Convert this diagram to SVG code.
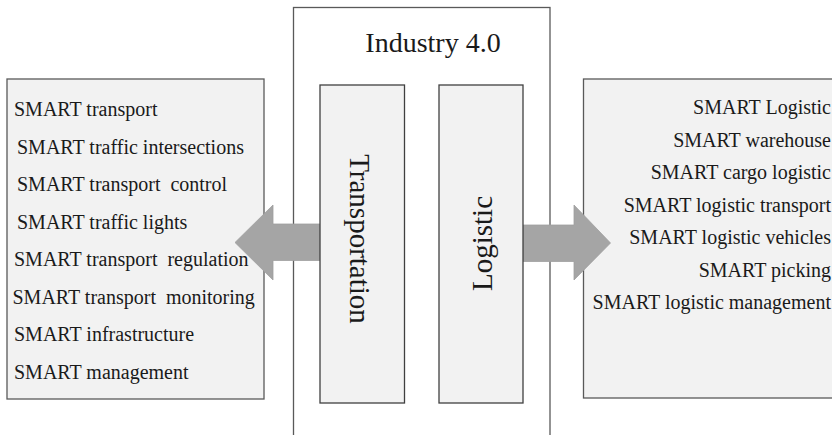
<svg xmlns="http://www.w3.org/2000/svg" width="832" height="435" viewBox="0 0 832 435">
<style>
.panel{fill:#f2f2f2;stroke:#595959;stroke-width:1.3}
.inner{fill:#f2f2f2;stroke:#404040;stroke-width:1.3}
.main{fill:#ffffff;stroke:#595959;stroke-width:1.3}
.arrow{fill:#a5a5a5;stroke:#a0a0a0;stroke-width:0.8}
text{fill:#1a1a1a;white-space:pre}
.item{font-size:20px}
.r{text-anchor:end}
.title{font-size:28px;text-anchor:middle}
.vert{font-size:29px;text-anchor:middle}
</style>
<rect width="832" height="435" fill="#ffffff"/>
<g font-family="'Liberation Serif', 'DejaVu Serif', serif">
<g id="industry">
<rect class="main" x="293.5" y="7.5" width="256.5" height="440"/>
<text class="title" x="433" y="52">Industry 4.0</text>
</g>
<g id="left-panel">
<rect class="panel" x="7" y="79" width="257" height="320"/>
<text class="item" x="14" y="116">SMART transport</text>
<text class="item" x="17" y="153.5">SMART traffic intersections</text>
<text class="item" x="17" y="191">SMART transport  control</text>
<text class="item" x="17" y="228.5">SMART traffic lights</text>
<text class="item" x="14" y="266">SMART transport  regulation</text>
<text class="item" x="12.5" y="303.5">SMART transport  monitoring</text>
<text class="item" x="14" y="341">SMART infrastructure</text>
<text class="item" x="14" y="378.5">SMART management</text>
</g>
<g id="right-panel">
<rect class="panel" x="583.5" y="79" width="260" height="319"/>
<text class="item r" x="831" y="114">SMART Logistic</text>
<text class="item r" x="831" y="146.5">SMART warehouse</text>
<text class="item r" x="831" y="179">SMART cargo logistic</text>
<text class="item r" x="831" y="211.5">SMART logistic transport</text>
<text class="item r" x="831" y="244">SMART logistic vehicles</text>
<text class="item r" x="831" y="276.5">SMART picking</text>
<text class="item r" x="831" y="309">SMART logistic management</text>
</g>
<g id="connectors">
<polygon class="arrow" points="321,224 273,224 273,205 235,242.5 273,280 273,260.5 321,260.5"/>
<polygon class="arrow" points="523,225 574,225 574,205 610.5,243 574,280 574,261.5 523,261.5"/>
</g>
<g id="transportation">
<rect class="inner" x="320" y="85" width="84.5" height="318"/>
<text class="vert" transform="translate(349.5,239) rotate(90)">Transportation</text>
</g>
<g id="logistic">
<rect class="inner" x="439" y="85" width="84" height="318"/>
<text class="vert" transform="translate(491.5,243.5) rotate(-90)">Logistic</text>
</g>
</g>
</svg>
